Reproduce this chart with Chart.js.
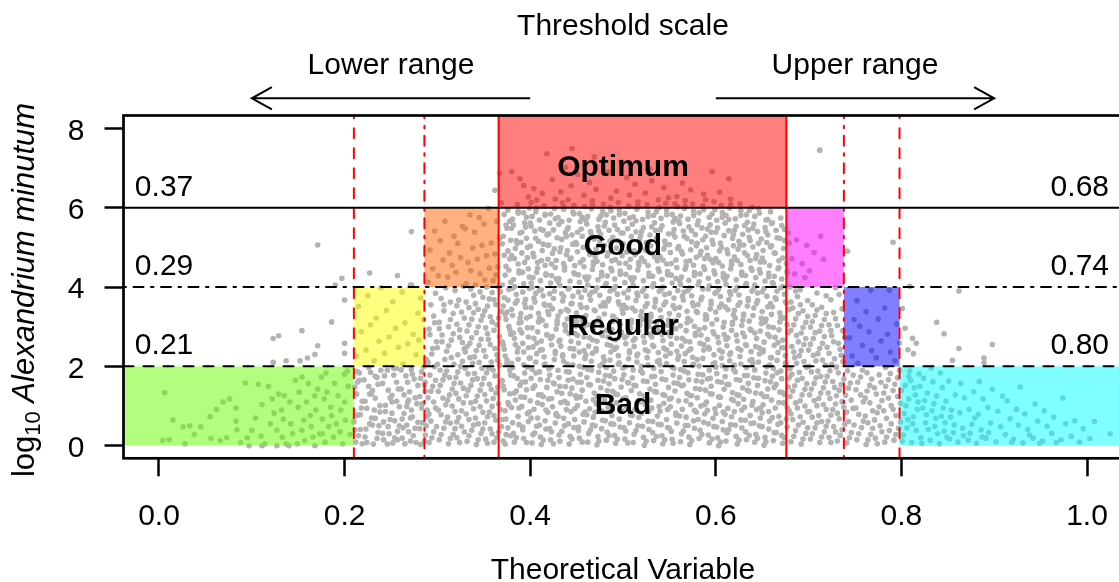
<!DOCTYPE html>
<html>
<head>
<meta charset="utf-8">
<script src="https://cdn.jsdelivr.net/npm/chart.js@4.4.1/dist/chart.umd.min.js"></script>
<style>
  html, body { margin: 0; padding: 0; background: #fff; }
  #c { display: block; }
</style>
</head>
<body>
<canvas id="c" width="1119" height="582"></canvas>
<script>
// axis ticks
const xTicks = [0, 0.2, 0.4, 0.6, 0.8, 1.0];
const yTicks = [0, 2, 4, 6, 8];

// thresholds (log10 cells/L levels) and the x where each one is crossed
const levels = [2, 4, 6];
const lowerCuts = [0.210, 0.286, 0.366];
const upperCuts = [0.798, 0.738, 0.676];
const lowerLabels = ['0.21', '0.29', '0.37'];
const upperLabels = ['0.80', '0.74', '0.68'];

const classNames = ['Bad', 'Regular', 'Good', 'Optimum'];
const classLevels = [1, 3, 5, 7];

const lowerColors = ['rgba(102,255,0,0.5)', 'rgba(255,255,0,0.5)', 'rgba(255,102,0,0.5)'];
const upperColors = ['rgba(0,255,255,0.5)', 'rgba(0,0,255,0.5)', 'rgba(255,0,255,0.5)'];
const topColor = 'rgba(255,0,0,0.5)';

// scatter: pairs of (x * 1000, y * 100)
const dotsLeft = [
  6,134, 15,65, 26,48, 33,50, 4,13, 11,15, 28,5, 45,48, 55,73, 56,18, 66,13, 69,110, 73,20, 76,118,
  83,95, 83,62, 84,40, 93,158, 95,20, 100,39, 107,155, 111,104, 110,24, 114,5, 120,55, 122,118, 124,82,
  127,39, 129,130, 132,90, 133,21, 134,67, 135,126, 137,5, 141,110, 142,55, 144,30, 147,165, 150,97,
  151,135, 154,39, 156,64, 157,13, 159,110, 161,157, 163,76, 164,48, 166,22, 168,126, 169,90, 171,143,
  173,30, 175,173, 176,67, 178,118, 179,9, 181,135, 183,48, 185,97, 186,76, 188,22, 189,157, 191,55,
  193,126, 195,35, 196,90, 198,5, 200,110, 201,64, 200,180, 180,183, 154,173, 176,30, 168,0, 149,5,
  127,0, 140,0, 97,0, 111,0, 62,92, 38,28, 88,8, 104,70, 118,150, 204,150, 206,28, 203,188,
  123,270, 129,277, 171,252, 168,230, 137,214, 123,210, 152,214, 200,258, 200,233, 171,506, 200,367,
  154,290, 190,405, 197,422, 186,312, 160,221
];
const dotsRiseA = [
  212,9, 217,41, 214,77, 219,112, 211,148, 216,183, 213,226, 218,288, 215,351,
  222,22, 227,55, 224,94, 229,131, 221,166, 226,197, 223,241, 228,305, 225,378,
  231,4, 236,33, 233,69, 238,101, 230,139, 235,172, 232,214, 237,263, 234,322, 239,398,
  242,15, 247,48, 244,86, 249,120, 241,157, 246,190, 243,233, 248,274, 245,341,
  252,7, 257,36, 254,63, 259,98, 251,127, 256,160, 253,195, 258,248, 255,296, 252,363, 257,429,
  262,19, 267,52, 264,81, 269,115, 261,143, 266,176, 263,206, 268,257, 265,310, 262,387,
  271,12, 276,44, 273,73, 278,106, 270,136, 275,168, 272,192, 277,229, 274,281, 279,334, 271,405,
  282,3, 287,27, 284,58, 289,90, 281,124, 286,153, 283,186, 288,218, 280,266, 285,318, 282,372,
  215,25, 210,60, 218,95, 213,130, 216,165, 219,5, 214,187, 224,8, 229,70, 222,112, 226,150, 228,185,
  235,18, 230,52, 238,85, 233,120, 236,155, 239,190, 246,4, 241,31, 249,66, 244,102, 247,140, 243,176,
  254,20, 259,50, 251,82, 256,112, 258,143, 253,178, 265,5, 269,35, 262,67, 267,99, 264,128, 268,160,
  261,191, 274,25, 279,59, 272,90, 276,121, 279,152, 273,180, 286,12, 281,43, 289,74, 284,106, 287,137,
  282,170, 285,199, 227,435, 272,540, 272,405,
  211,40, 217,78, 223,42, 227,130, 232,90, 237,50, 242,60, 248,30, 251,110, 257,15, 263,45, 268,110,
  271,70, 277,8, 283,95, 288,50, 287,160, 214,160, 233,175, 256,195
];
const dotsRiseB = [
  291,8, 296,35, 293,62, 298,95, 290,121, 295,150, 292,178, 297,199, 294,231, 299,262, 291,294, 296,327, 293,355, 298,384, 290,412, 295,446, 292,493, 297,541,
  302,15, 307,44, 304,78, 309,103, 301,137, 306,166, 303,190, 308,218, 300,247, 305,279, 302,311, 307,340, 304,371, 309,398, 301,429, 306,468, 303,517, 308,566,
  312,5, 317,29, 314,57, 319,86, 311,115, 316,143, 313,172, 318,205, 310,238, 315,266, 312,300, 317,333, 314,362, 319,391, 311,425, 316,455, 313,486, 318,528,
  321,20, 326,49, 323,71, 328,108, 320,132, 325,158, 322,186, 327,213, 329,244, 324,273, 321,306, 326,337, 323,367, 328,402, 320,437, 325,474, 322,510, 327,553,
  332,11, 337,39, 334,66, 339,93, 331,126, 336,152, 333,181, 338,208, 330,236, 335,258, 332,289, 337,319, 334,348, 339,379, 331,409, 336,441, 333,462, 338,498, 330,547, 335,582,
  342,3, 347,31, 344,55, 349,84, 341,112, 346,140, 343,169, 348,195, 340,224, 345,253, 342,285, 347,316, 344,344, 349,374, 341,405, 346,433, 343,470, 348,505, 340,538, 345,575,
  352,17, 357,42, 354,73, 359,99, 351,129, 356,155, 353,184, 358,211, 350,240, 355,268, 352,297, 357,325, 354,352, 359,386, 351,418, 356,448, 353,479, 358,511, 350,559, 355,598,
  361,9, 366,34, 363,64, 368,91, 360,119, 365,147, 362,176, 367,203, 364,229, 369,259, 361,291, 366,322, 363,356, 368,388, 360,416, 365,451, 362,483, 367,523, 364,566, 369,612,
  362,644, 367,687,
  294,20, 299,48, 291,80, 296,110, 293,137, 298,165, 290,210, 295,245, 292,280, 297,310,
  304,28, 309,60, 301,90, 306,120, 303,152, 308,178, 300,205, 305,262, 302,295, 307,355,
  314,18, 319,43, 311,72, 316,100, 313,128, 318,157, 310,188, 315,222, 312,252, 317,282, 314,318,
  324,8, 329,35, 321,60, 326,88, 323,118, 328,145, 320,172, 325,200, 322,229, 327,260, 324,292, 329,322, 321,353,
  334,25, 339,52, 331,80, 336,108, 333,140, 338,166, 330,195, 335,222, 332,250, 337,272, 334,305, 339,335, 331,362, 336,395,
  344,15, 349,42, 341,70, 346,98, 343,125, 348,155, 340,182, 345,210, 342,240, 347,268, 344,300, 349,328, 341,358, 346,388,
  354,6, 359,30, 351,58, 356,85, 353,113, 358,142, 350,170, 355,196, 352,225, 357,255, 354,282, 359,312, 351,340, 356,370, 353,400,
  364,20, 369,48, 361,76, 366,105, 363,133, 368,160, 360,190, 365,215, 362,245, 367,275, 364,305, 369,338, 361,368, 366,400, 363,430
];
const dotsCore = [
  371,12,376,45,373,88,378,131,370,164,375,207,372,243,379,281,374,318,371,352,377,394,373,430,378,471,370,509,375,548,372,583,379,25,374,67,376,109,371,150,378,190,373,226,370,262,377,301,375,337,372,373,379,412,374,452,376,491,371,528,378,566,373,4,
  382,31,387,74,384,115,389,152,381,197,386,236,383,270,388,309,380,344,385,381,382,419,387,458,384,497,389,536,381,571,386,608,383,9,388,53,380,96,385,138,382,176,387,218,384,255,389,292,381,329,386,366,383,401,388,441,380,479,385,517,382,556,387,591,380,691,
  393,18,398,61,391,99,396,141,394,183,399,221,392,258,397,297,390,333,395,369,393,408,398,446,391,486,396,523,394,562,399,599,392,40,397,81,390,123,395,161,393,204,398,247,391,284,396,322,394,359,399,396,392,437,397,474,390,513,395,551,393,587,398,627,389,673,393,656,
  402,7,407,49,404,92,409,128,401,170,406,211,403,249,408,287,400,326,405,362,402,399,407,437,404,476,409,515,401,553,406,590,403,28,408,70,400,113,405,151,402,193,407,232,404,271,409,312,401,348,406,384,403,424,408,462,400,503,405,541,402,578,407,619,404,648,401,613,
  411,22,416,63,413,104,418,147,410,186,415,224,412,264,417,303,419,339,414,378,411,416,416,455,413,492,418,531,410,569,415,604,412,3,417,42,419,84,414,124,411,167,416,206,413,242,418,280,410,321,415,357,412,393,417,433,419,470,414,508,411,546,416,583,413,636,418,736,
  422,15,427,57,424,98,429,136,421,178,426,217,423,254,428,294,420,331,425,371,422,410,427,449,424,485,429,524,421,561,426,598,423,35,428,77,420,118,425,158,422,198,427,238,424,276,429,315,421,354,426,390,423,429,428,467,420,506,425,544,422,584,427,622,424,671,
  431,27,436,69,433,109,438,149,430,190,435,229,432,266,437,306,439,343,434,383,431,421,436,459,433,499,438,537,430,575,435,612,432,11,437,50,439,91,434,132,431,172,436,213,433,251,438,290,430,327,435,365,432,404,437,443,439,481,434,520,431,558,436,596,433,640,438,702,
  442,4,447,46,444,86,449,126,441,165,446,204,443,245,448,283,440,320,445,359,442,397,447,436,444,473,449,512,441,550,446,589,443,24,448,66,440,107,445,145,442,186,447,226,444,263,449,302,441,340,446,377,443,415,448,454,440,492,445,531,442,568,447,606,444,655,445,749,441,620,
  453,19,458,60,451,101,456,140,454,180,459,220,452,259,457,297,450,335,455,374,453,412,458,451,451,489,456,528,454,565,459,603,452,38,457,79,450,120,455,160,453,200,458,240,451,278,456,317,454,355,459,392,452,431,457,469,450,508,455,546,453,585,458,631,451,684,
  462,9,467,52,464,93,469,133,461,172,466,213,463,251,468,290,460,328,465,367,462,405,467,444,464,482,469,521,461,559,466,597,463,31,468,72,460,112,465,153,462,193,467,233,464,272,469,309,461,348,466,386,463,425,468,463,460,501,465,540,462,578,467,617,464,663,469,728,
  473,23,478,64,471,106,476,146,474,185,479,224,472,263,477,302,470,340,475,379,473,418,478,456,471,495,476,533,474,571,479,609,472,2,477,43,470,84,475,125,473,165,478,206,471,245,476,283,474,321,479,360,472,398,477,437,470,476,475,514,473,552,478,591,471,646,
  482,14,487,55,484,97,489,137,481,177,486,216,483,255,488,293,480,332,485,371,482,409,487,447,484,486,489,525,481,563,486,601,483,34,488,76,480,116,485,156,482,197,487,236,484,274,489,314,481,352,486,390,483,428,488,466,480,505,485,543,482,582,487,624,484,690,
  491,26,496,67,493,108,498,148,490,188,495,227,492,267,497,306,499,344,494,382,491,420,496,460,493,498,498,536,490,574,495,613,492,6,497,47,499,88,494,129,491,169,496,209,493,248,498,287,490,325,495,363,492,402,497,440,499,479,494,517,491,556,496,594,493,642,498,715,
  502,17,507,58,504,99,509,139,501,179,506,219,503,257,508,296,500,334,505,373,502,411,507,450,504,488,509,527,501,566,506,604,503,37,508,78,500,119,505,159,502,199,507,239,504,277,509,316,501,354,506,393,503,432,508,470,500,509,505,547,502,586,507,632,504,676,
  511,8,516,50,513,91,518,131,510,171,515,211,512,250,517,289,519,327,514,366,511,404,516,443,513,481,518,520,510,558,515,596,512,29,517,71,519,111,514,151,511,191,516,231,513,270,518,308,510,347,515,385,512,423,517,462,519,500,514,539,511,577,516,615,513,659,
  522,21,527,62,524,103,529,143,521,183,526,222,523,261,528,300,520,338,525,377,522,416,527,454,524,493,529,531,521,570,526,607,523,1,528,41,520,82,525,123,522,163,527,203,524,242,529,281,521,319,526,358,523,396,528,435,520,473,525,512,522,550,527,589,524,637,529,698,
  533,13,538,54,531,95,536,135,534,175,539,215,532,253,537,292,530,331,535,369,533,408,538,446,531,485,536,523,534,562,539,600,532,33,537,75,530,115,535,155,533,195,538,235,531,274,536,312,534,350,539,389,532,427,537,466,530,504,535,543,533,581,538,620,531,668,
  542,25,547,66,544,107,549,147,541,187,546,226,543,265,548,304,540,342,545,381,542,419,547,458,544,496,549,534,541,573,546,611,543,5,548,46,540,87,545,127,542,168,547,207,544,246,549,285,541,323,546,362,543,400,548,439,540,477,545,516,542,554,547,593,544,651,549,625,
  553,16,558,57,551,98,556,138,554,178,559,218,552,256,557,295,550,333,555,372,553,410,558,449,551,487,556,526,554,564,559,602,552,36,557,77,550,118,555,158,553,198,558,238,551,276,556,315,554,353,559,391,552,430,557,468,550,507,555,545,553,583,558,628,556,610,
  562,10,567,51,564,92,569,132,561,172,566,212,563,251,568,290,560,329,565,367,562,406,567,445,564,483,569,522,561,560,566,598,563,30,568,72,560,113,565,153,562,192,567,232,564,271,569,310,561,349,566,387,563,425,568,464,560,502,565,541,562,579,567,618,564,662,
  571,22,576,63,573,104,578,144,570,184,575,223,572,262,577,301,579,339,574,378,571,417,576,455,573,494,578,532,570,571,575,609,572,3,577,44,579,85,574,126,571,166,576,205,573,244,578,283,570,321,575,360,572,398,577,437,579,475,574,514,571,552,576,591,573,645,
  582,18,587,59,584,100,589,140,581,180,586,220,583,258,588,297,580,336,585,374,582,413,587,451,584,490,589,528,581,567,586,605,583,39,588,80,580,121,585,161,582,201,587,241,584,279,589,318,581,356,586,395,583,433,588,472,580,510,585,549,582,587,587,634,589,620,
  593,7,598,48,591,89,596,130,594,170,599,209,592,248,597,287,590,326,595,364,593,403,598,441,591,480,596,518,594,557,599,595,592,27,597,69,590,110,595,150,593,190,598,229,591,268,596,307,594,345,599,384,592,422,597,461,590,499,595,538,593,576,598,615,596,691,
  602,20,607,61,604,102,609,142,601,182,606,221,603,260,608,299,600,337,605,376,602,414,607,453,604,491,609,530,601,568,606,606,603,0,608,40,600,81,605,122,602,162,607,202,604,241,609,280,601,318,606,357,603,395,608,434,600,472,605,511,602,549,607,588,604,639,
  611,12,616,53,613,94,618,134,610,174,615,214,612,252,617,291,619,330,614,368,611,407,616,446,613,484,618,523,610,561,615,599,612,32,617,73,619,114,614,154,611,194,616,234,613,272,618,311,610,350,615,388,612,427,617,465,619,504,614,542,611,581,616,622,614,673,
  622,24,627,65,624,106,629,146,621,186,626,225,623,264,628,303,620,341,625,380,622,418,627,457,624,495,629,533,621,572,626,610,623,4,628,45,620,86,625,127,622,167,627,206,624,245,629,284,621,322,626,361,623,399,628,438,620,476,625,515,622,553,627,592,
  633,15,638,56,631,97,636,137,634,177,639,217,632,255,637,294,630,332,635,371,633,409,638,448,631,486,636,525,634,563,639,601,632,35,637,76,630,117,635,157,633,197,638,237,631,275,636,314,634,352,639,390,632,429,637,467,630,506,635,544,633,582,
  642,9,647,50,644,91,649,131,641,171,646,211,643,250,648,289,640,328,645,366,642,405,647,444,644,482,649,521,641,559,646,597,643,29,648,70,640,111,645,152,642,191,647,231,644,270,649,308,641,347,645,385,643,424,648,463,640,501,645,540,642,578,
  653,21,658,62,651,103,656,143,654,183,659,222,652,261,657,300,650,338,655,377,653,415,658,454,651,492,656,531,654,569,659,590,652,1,657,42,650,83,655,124,653,164,658,203,651,242,656,281,654,319,659,358,652,396,657,435,650,473,655,512,653,550,
  662,13,667,54,664,95,669,135,661,175,666,215,663,253,668,292,660,331,665,369,662,408,667,446,664,485,669,523,661,562,663,33,668,74,660,115,665,155,662,195,667,235,664,273,669,312,661,350,666,389,663,427,668,466,660,504,665,543,
  671,26,676,67,673,108,678,148,670,188,675,227,672,266,677,305,679,343,674,382,671,420,676,459,673,497,678,536,670,574,672,6,677,47,679,88,674,129,671,169,676,208,673,247,678,286,670,324,675,363,672,401,677,440,674,517,671,555
];
const dotsCoreFill = [
  374,28,370,66,377,103,372,141,379,178,375,216,371,254,378,292,373,330,376,367,370,405,377,443,372,480,379,518,374,556,376,594,
  385,20,381,58,388,95,383,133,386,170,380,208,387,246,382,284,389,322,384,359,381,397,388,435,383,472,386,510,380,548,387,586,
  396,8,392,47,399,85,394,122,391,160,397,198,393,236,398,274,390,311,395,349,392,387,399,425,394,462,397,500,391,538,396,576,
  405,32,401,70,408,108,403,145,406,183,400,221,407,259,402,297,409,334,404,372,401,410,408,448,403,485,406,523,400,561,407,599,
  414,14,410,52,417,90,412,128,419,165,415,203,411,241,418,279,413,316,416,354,410,392,417,430,412,467,419,505,414,543,416,581,
  425,5,421,43,428,81,423,119,426,156,420,194,427,232,422,270,429,307,424,345,421,383,428,421,423,458,426,496,420,534,427,572,
  434,36,430,74,437,112,432,150,439,187,435,225,431,263,438,301,433,338,436,376,430,414,437,452,432,489,439,527,434,565,436,603,
  445,17,441,55,448,93,443,131,446,168,440,206,447,244,442,282,449,319,444,357,441,395,448,433,443,470,446,508,440,546,447,584,
  456,9,452,47,459,85,454,123,451,160,457,198,453,236,458,274,450,311,455,349,452,387,459,425,454,462,457,500,451,538,456,576,
  465,40,461,78,468,116,463,154,466,191,460,229,467,267,462,305,469,342,464,380,461,418,468,456,463,493,466,531,460,569,467,607,
  474,12,470,50,477,88,472,126,479,163,475,201,471,239,478,277,473,314,476,352,470,390,477,428,472,465,479,503,474,541,476,579,
  485,25,481,63,488,101,483,139,486,176,480,214,487,252,482,290,489,327,484,365,481,403,488,441,483,478,486,516,480,554,487,592,
  494,16,490,54,497,92,492,130,499,167,495,205,491,243,498,281,493,318,496,356,490,394,497,432,492,469,499,507,494,545,496,583,
  505,7,501,45,508,83,503,121,506,158,500,196,507,234,502,272,509,309,504,347,501,385,508,423,503,460,506,498,500,536,507,574,
  514,38,510,76,517,114,512,152,519,189,515,227,511,265,518,303,513,340,516,378,510,416,517,454,512,491,519,529,514,567,516,605,
  525,11,521,49,528,87,523,125,526,162,520,200,527,238,522,276,529,313,524,351,521,389,528,427,523,464,526,502,520,540,527,578,
  536,23,532,61,539,99,534,137,531,174,537,212,533,250,538,288,530,325,535,363,532,401,539,439,534,476,537,514,531,552,536,590,
  545,15,541,53,548,91,543,129,546,166,540,204,547,242,542,280,549,317,544,355,541,393,548,431,543,468,546,506,540,544,547,582,
  554,6,550,44,557,82,552,120,559,157,555,195,551,233,558,271,553,308,556,346,550,384,557,422,552,459,559,497,554,535,556,573,
  565,37,561,75,568,113,563,151,566,188,560,226,567,264,562,302,569,339,564,377,561,415,568,453,563,490,566,528,560,566,567,604,
  574,13,570,51,577,89,572,127,579,164,575,202,571,240,578,278,573,315,576,353,570,391,577,429,572,466,579,504,574,542,576,580,
  585,28,581,66,588,104,583,142,586,179,580,217,587,255,582,293,589,330,584,368,581,406,588,444,583,481,586,519,580,557,587,595,
  596,17,592,55,599,93,594,131,591,168,597,206,593,244,598,282,590,319,595,357,592,395,599,433,594,470,597,508,591,546,596,584,
  605,9,601,47,608,85,603,123,606,160,600,198,607,236,602,274,609,311,604,349,601,387,608,425,603,462,606,500,600,538,607,576,
  614,41,610,79,617,117,612,155,619,192,615,230,611,268,618,306,613,343,616,381,610,419,617,457,612,494,619,532,614,570,616,608,
  625,14,621,52,628,90,623,128,626,165,620,203,627,241,622,279,629,316,624,354,621,392,628,430,623,467,626,505,620,543,627,581,
  636,26,632,64,639,102,634,140,631,177,637,215,633,253,638,291,630,328,635,366,632,404,639,442,634,479,637,517,631,555,636,593,
  645,19,641,57,648,95,643,133,646,170,640,208,647,246,642,284,649,321,644,359,641,397,648,435,643,472,646,510,640,548,647,586,
  654,10,650,48,657,86,652,124,659,161,655,199,651,237,658,275,653,312,656,350,650,388,657,426,652,463,659,501,654,539,656,570,
  665,33,661,71,668,109,663,147,666,184,660,222,667,260,662,298,669,335,664,373,661,411,668,449,663,486,666,524,660,560,
  674,20,670,58,677,96,672,134,679,171,675,209,671,247,678,285,673,322,676,360,670,398,677,436,672,473,679,511,674,545
];
const dotsFallA = [
  681,10, 686,38, 683,66, 688,95, 680,124, 685,151, 682,180, 687,208, 684,236, 689,262, 681,291, 686,320, 683,347, 688,376, 680,400, 685,433, 682,471, 687,519,
  692,4, 697,31, 694,59, 699,86, 691,113, 696,142, 693,170, 698,198, 690,227, 695,255, 692,284, 697,311, 694,340, 699,366, 691,393, 696,424, 693,459, 698,505,
  702,17, 707,45, 704,72, 709,101, 701,128, 706,157, 703,186, 708,214, 700,241, 705,270, 702,299, 707,328, 704,355, 709,385, 701,441, 706,487,
  712,8, 717,35, 714,61, 719,92, 711,119, 716,146, 713,175, 718,203, 710,232, 715,258, 712,289, 717,318, 714,349, 719,378, 712,745, 716,470, 713,528,
  722,21, 727,48, 724,77, 729,105, 721,133, 726,162, 723,189, 728,219, 720,248, 725,277, 722,305, 727,336, 724,368, 729,398,
  731,12, 736,40, 733,68, 738,97, 730,126, 735,154, 732,184, 737,212, 734,243, 739,272, 731,303, 736,345, 733,381,
  684,24, 689,52, 681,80, 686,108, 683,138, 688,165, 680,194, 685,222, 682,250, 687,278, 684,305, 689,333, 681,362, 686,390,
  694,17, 699,45, 691,73, 696,100, 693,128, 698,156, 690,185, 695,212, 692,240, 697,270, 694,298, 699,326, 691,355,
  704,30, 709,58, 701,86, 706,114, 703,143, 708,171, 700,200, 705,228, 702,256, 707,285, 704,313, 709,342,
  714,22, 719,49, 711,76, 716,104, 713,133, 718,161, 710,188, 715,216, 712,245, 717,275, 714,303, 719,333,
  724,8, 729,35, 721,62, 726,91, 723,119, 728,147, 720,175, 725,205, 722,233, 727,262, 724,290, 729,320,
  734,26, 739,54, 731,82, 736,111, 733,140, 738,168, 730,198, 735,228, 732,258, 737,290
];
const dotsFallB = [
  741,7, 746,33, 743,61, 748,94, 740,127, 745,158, 742,189, 747,226, 744,272, 749,318, 742,490,
  752,15, 757,46, 754,79, 759,110, 751,141, 756,173, 753,208, 758,253, 755,301, 752,366,
  762,3, 767,29, 764,58, 769,88, 761,120, 766,152, 763,184, 768,240, 765,287, 762,338, 767,392,
  772,19, 777,50, 774,83, 779,114, 771,146, 776,179, 773,222, 778,264, 775,319,
  782,9, 787,38, 784,69, 789,101, 781,133, 786,166, 783,197, 788,236, 785,281, 782,347, 787,392,
  792,14, 797,44, 794,76, 799,107, 791,139, 796,171, 793,214, 798,259, 795,307, 791,513,
  744,20, 749,52, 741,85, 746,115, 743,145, 748,178, 754,30, 759,62, 751,95, 756,128, 753,160, 758,190,
  764,15, 769,44, 761,75, 766,108, 763,138, 768,168, 774,5, 779,35, 771,65, 776,98, 773,130, 778,160,
  784,22, 789,55, 781,88, 786,120, 783,150, 788,182, 794,28, 799,60, 791,92, 796,124, 793,155, 798,190
];
const dotsRight = [
  801,12, 806,45, 803,81, 808,118, 804,152, 809,188, 802,27, 807,66, 805,101, 800,139, 808,174,
  811,8, 816,39, 813,73, 818,110, 814,146, 819,181, 812,55, 817,92, 815,128, 810,164,
  821,20, 826,58, 823,95, 828,133, 824,170, 822,6, 827,78, 825,114, 820,150, 829,41,
  831,14, 836,49, 833,88, 838,125, 834,161, 832,196, 837,69, 835,106, 839,30,
  841,5, 846,37, 843,74, 848,112, 844,147, 842,183, 847,58, 845,95, 849,22,
  852,17, 857,52, 854,90, 858,128, 851,163, 856,33, 853,72,
  861,9, 866,44, 863,83, 868,121, 864,157, 867,25, 872,14, 876,54, 873,92, 878,136, 874,31, 879,70,
  881,6, 886,40, 883,79, 888,118, 884,162, 887,22, 891,19, 896,57, 893,96, 898,142, 894,33,
  902,10, 907,48, 904,87, 909,125, 912,28, 917,68, 914,113, 919,9, 921,16, 926,52, 924,92, 928,148,
  931,7, 936,41, 933,80, 938,27, 942,19, 947,62, 944,105, 949,6, 952,12, 957,49, 954,88,
  962,31, 967,8, 964,72, 972,15, 977,55, 974,120, 983,24, 987,63, 992,9, 996,43, 1003,18, 1008,61, 1025,30,
  809,402, 862,390, 801,346, 838,311, 804,296, 846,282, 812,271, 816,258, 862,245, 898,255,
  813,232, 807,242, 855,215, 889,221, 889,209
];

const FONT = '"Liberation Sans", Arial, Helvetica, sans-serif';
const toPoints = arr => {
  const out = [];
  for (let i = 0; i < arr.length; i += 2) out.push({ x: arr[i] / 1000, y: arr[i + 1] / 100 });
  return out;
};
const allDots = [dotsLeft, dotsRiseA, dotsRiseB, dotsCore, dotsCoreFill, dotsFallA, dotsFallB, dotsRight].flatMap(toPoints);

// R-like line types, lwd 2
const lineDash = { 2: [10, 10], 4: [2.5, 7.5, 10, 7.5], 6: [] };

const overlay = {
  id: 'overlay',
  afterDatasetsDraw(chart) {
    const { ctx, chartArea: a, scales: { x, y } } = chart;
    const px = v => x.getPixelForValue(v);
    const py = v => y.getPixelForValue(v);

    ctx.save();
    ctx.beginPath();
    ctx.rect(a.left, a.top, a.right - a.left, a.bottom - a.top);
    ctx.clip();

    // coloured zones
    const fillZone = (x0, x1, y0, y1, col) => {
      ctx.fillStyle = col;
      ctx.fillRect(px(x0), py(y1), px(x1) - px(x0), py(y0) - py(y1));
    };
    levels.forEach((lv, i) => {
      const bottom = i === 0 ? 0 : levels[i - 1];
      fillZone(i === 0 ? x.min : lowerCuts[i - 1], lowerCuts[i], bottom, lv, lowerColors[i]);
      fillZone(upperCuts[i], i === 0 ? x.max : upperCuts[i - 1], bottom, lv, upperColors[i]);
    });
    fillZone(lowerCuts[2], upperCuts[2], levels[2], y.max, topColor);

    ctx.lineCap = 'round';
    // red vertical cut lines
    ctx.strokeStyle = '#ff0000';
    ctx.lineWidth = 2;
    levels.forEach((lv, i) => {
      [lowerCuts[i], upperCuts[i]].forEach(c => {
        ctx.setLineDash(lineDash[lv]);
        ctx.beginPath();
        ctx.moveTo(px(c), a.bottom);
        ctx.lineTo(px(c), a.top);
        ctx.stroke();
      });
    });
    // black threshold lines
    ctx.strokeStyle = '#000';
    levels.forEach(lv => {
      ctx.setLineDash(lineDash[lv]);
      ctx.beginPath();
      ctx.moveTo(a.left, py(lv));
      ctx.lineTo(a.right + 10, py(lv));
      ctx.stroke();
    });
    ctx.setLineDash([]);

    // class names
    ctx.fillStyle = '#000';
    ctx.textBaseline = 'alphabetic';
    ctx.textAlign = 'center';
    ctx.font = 'bold 30px ' + FONT;
    classNames.forEach((t, i) => ctx.fillText(t, px(0.5), py(classLevels[i]) + 8));

    // threshold numbers
    ctx.font = '30px ' + FONT;
    levels.forEach((lv, i) => {
      ctx.textAlign = 'left';
      ctx.fillText(lowerLabels[i], px(-0.026), py(lv) - 12);
      ctx.textAlign = 'right';
      ctx.fillText(upperLabels[i], px(1.0237), py(lv) - 12);
    });
    ctx.restore();

    // plot frame (right side runs off the picture)
    ctx.save();
    ctx.strokeStyle = '#000';
    ctx.lineWidth = 2.7;
    ctx.strokeRect(a.left, a.top, a.right - a.left + 20, a.bottom - a.top);
    ctx.restore();
  },
  afterDraw(chart) {
    const { ctx, scales: { x, y } } = chart;
    const px = v => x.getPixelForValue(v);
    const py = v => y.getPixelForValue(v);
    ctx.save();
    ctx.fillStyle = '#000';
    ctx.strokeStyle = '#000';
    ctx.font = '30px ' + FONT;
    ctx.textAlign = 'center';
    ctx.textBaseline = 'alphabetic';
    ctx.fillText('Threshold scale', px(0.5), py(10.35));
    ctx.fillText('Lower range', px(0.25), py(9.38));
    ctx.fillText('Upper range', px(0.75), py(9.38));

    // range arrows
    const arrow = (from, to) => {
      const yy = py(8.756), x0 = px(from), x1 = px(to);
      const dir = Math.sign(x1 - x0), L = 23, ang = 29 * Math.PI / 180;
      ctx.lineWidth = 2;
      ctx.beginPath();
      ctx.moveTo(x0, yy); ctx.lineTo(x1, yy);
      ctx.moveTo(x1 - dir * L * Math.cos(ang), yy - L * Math.sin(ang));
      ctx.lineTo(x1, yy);
      ctx.lineTo(x1 - dir * L * Math.cos(ang), yy + L * Math.sin(ang));
      ctx.stroke();
    };
    arrow(0.4, 0.1);
    arrow(0.6, 0.9);

    // x axis title
    ctx.fillText('Theoretical Variable', px(0.5), 579);

    // y axis title: log10 (subscript) + italic species
    const parts = [
      { t: 'log', f: '31px ' + FONT, dy: 0 },
      { t: '10', f: '22px ' + FONT, dy: 6 },
      { t: ' ', f: '31px ' + FONT, dy: 0 },
      { t: 'Alexandrium minutum', f: 'italic 31px ' + FONT, dy: 0 }
    ];
    let total = 0;
    parts.forEach(p => { ctx.font = p.f; p.w = ctx.measureText(p.t).width; total += p.w; });
    ctx.translate(34, 290);
    ctx.rotate(-Math.PI / 2);
    ctx.textAlign = 'left';
    let cx = -total / 2;
    parts.forEach(p => { ctx.font = p.f; ctx.fillText(p.t, cx, p.dy); cx += p.w; });
    ctx.restore();
  }
};

new Chart(document.getElementById('c'), {
  type: 'scatter',
  data: {
    datasets: [{
      data: allDots,
      pointRadius: 2.8,
      pointHoverRadius: 0,
      pointBorderWidth: 0,
      backgroundColor: '#b3b3b3',
      borderColor: '#b3b3b3'
    }]
  },
  options: {
    responsive: false,
    animation: false,
    devicePixelRatio: 1,
    events: [],
    layout: { autoPadding: false, padding: { top: 115.5, right: 0, left: 0, bottom: 0 } },
    plugins: { legend: { display: false }, tooltip: { enabled: false } },
    scales: {
      x: {
        type: 'linear',
        min: -0.03825,
        max: 1.03448,
        afterFit: s => { s.height = 582 - 458.3; s.paddingLeft = 0; s.paddingRight = 0; },
        afterBuildTicks: s => { s.ticks = xTicks.map(v => ({ value: v })); },
        border: { display: false },
        grid: { drawOnChartArea: false, drawTicks: true, tickLength: 18, tickWidth: 2.5, tickColor: '#000' },
        ticks: {
          color: '#000', font: { family: FONT, size: 30 }, padding: 22,
          maxRotation: 0, autoSkip: false,
          callback: v => Number(v).toFixed(1)
        }
      },
      y: {
        type: 'linear',
        min: -0.3176,
        max: 8.323,
        afterFit: s => { s.width = 123.5; s.paddingTop = 0; s.paddingBottom = 0; },
        afterBuildTicks: s => { s.ticks = yTicks.map(v => ({ value: v })); },
        border: { display: false },
        grid: { drawOnChartArea: false, drawTicks: true, tickLength: 19, tickWidth: 2.5, tickColor: '#000' },
        ticks: {
          color: '#000', font: { family: FONT, size: 30 }, padding: 20, labelOffset: 3,
          callback: v => String(v)
        }
      }
    }
  },
  plugins: [overlay]
});
</script>
</body>
</html>
